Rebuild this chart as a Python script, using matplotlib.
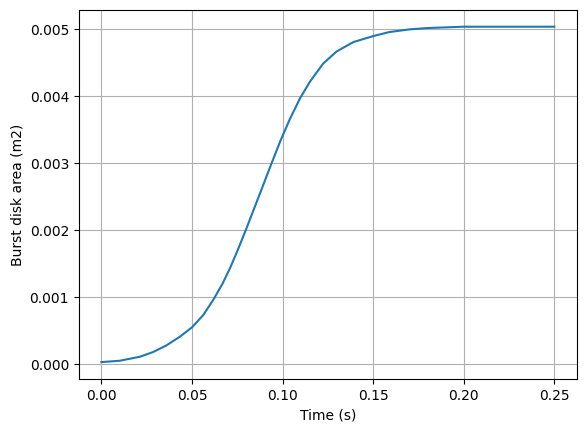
import numpy as np
import matplotlib
matplotlib.use("Agg")
import matplotlib.pyplot as plt

# values
time = [0.0, 0.01, 0.0212, 0.0285, 0.0359, 0.0433, 0.05, 0.0561, 0.0617,
        0.0668, 0.0709, 0.075, 0.0792, 0.0835, 0.0875, 0.0939, 0.0987,
        0.104, 0.1096, 0.1151, 0.1224, 0.1298, 0.139, 0.15, 0.1589, 0.17,
        0.18, 0.19, 0.20, 0.25]
area = [0.00003, 0.00005, 0.00011, 0.00018, 0.00028, 0.00041, 0.00055,
        0.00073, 0.00096, 0.00120, 0.00143, 0.00169, 0.00197, 0.00227,
        0.00255, 0.00300, 0.00333, 0.00366, 0.00397, 0.00422, 0.00449,
        0.00467, 0.00481, 0.00490, 0.00496, 0.00500, 0.00502, 0.00503,
        0.00504, 0.00504]

fig = plt.figure(figsize=(5.84, 4.32), dpi=100)
ax = fig.add_subplot(111)
fig.subplots_adjust(left=0.135, right=0.988, bottom=0.123, top=0.977)

ax.plot(time, area)
ax.set_xlabel('Time (s)')
ax.set_ylabel('Burst disk area (m2)')
ax.grid(True)

fig.savefig('out.png', dpi=100)
